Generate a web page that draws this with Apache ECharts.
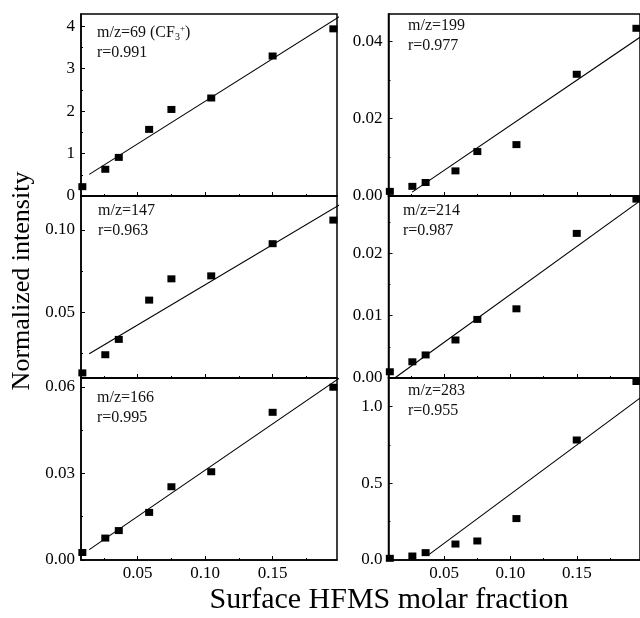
<!DOCTYPE html>
<html>
<head>
<meta charset="utf-8">
<script src="https://cdn.jsdelivr.net/npm/echarts@6/dist/echarts.min.js"></script>
<style>
  html, body { margin: 0; padding: 0; background: #fff; }
  #chart { width: 640px; height: 618px; }
</style>
</head>
<body>
<div id="chart"></div>
<script>
// surface HFMS molar fraction (shared x values for all six panels)
var xFrac = [0.009, 0.026, 0.036, 0.0585, 0.075, 0.1045, 0.15, 0.195];
var xTickLabels = [0.05, 0.10, 0.15];
var xMinorTicks = [0.025, 0.075, 0.125, 0.175];

// normalized intensities, one array per ion
var mz69 = [0.22, 0.63, 0.91, 1.57, 2.04, 2.31, 3.30, 3.94];
var mz199 = [0.0012, 0.0025, 0.0035, 0.0065, 0.0115, 0.0133, 0.0315, 0.0434];
var mz147 = [0.0134, 0.0244, 0.0337, 0.0575, 0.0704, 0.0722, 0.0917, 0.1060];
var mz214 = [0.0010, 0.0026, 0.0037, 0.0061, 0.0094, 0.0111, 0.0232, 0.0287];
var mz166 = [0.0026, 0.0076, 0.0102, 0.0165, 0.0254, 0.0306, 0.0512, 0.0599];
var mz283 = [0.011, 0.026, 0.048, 0.104, 0.124, 0.270, 0.782, 1.163];

// panel order: row by row, left then right
var panelValues = [mz69, mz199, mz147, mz214, mz166, mz283];
var panelLabels = ['m/z=69 (CF{sub|3}{sup|+})', 'm/z=199', 'm/z=147', 'm/z=214', 'm/z=166', 'm/z=283'];
var rValues = ['0.991', '0.977', '0.963', '0.987', '0.995', '0.955'];

// linear fit end points
var fitX = [[0.0141, 0.2021], [0.0258, 0.2021], [0.0141, 0.2021], [0.0127, 0.2021], [0.0141, 0.2021], [0.0387, 0.2021]];
var fitY = [[0.51, 4.28], [0.001, 0.0421], [0.025, 0.1165], [0, 0.0291], [0.0036, 0.0639], [0.037, 1.083]];

// y axes
var yTickLabels = [[0, 1, 2, 3, 4], [0, 0.02, 0.04], [0.05, 0.10], [0, 0.01, 0.02], [0, 0.03, 0.06], [0, 0.5, 1.0]];
var yMinorTicks = [[0.5, 1.5, 2.5, 3.5], [0.01, 0.03], [0.025, 0.075], [0.005, 0.015, 0.025], [0.015, 0.045], [0.25, 0.75]];
var yRange = [[0, 4.29], [0, 0.0471], [0.0103, 0.1206], [0, 0.0292], [0, 0.0631], [0, 1.186]];
var yDecimals = [0, 2, 2, 2, 2, 1];

var xMin = 0.008, xMax = 0.1977;
var FONT = '"Liberation Serif", "Times New Roman", serif';

var colLeft = [81, 388.5];
var rowTop = [14, 196, 378];
var annotPos = [[97, 43], [408, 36], [98, 221], [403, 221], [97, 408], [408, 401]];

var grids = [], xAxes = [], yAxes = [], series = [], graphics = [];

for (var i = 0; i < 6; i++) {
	var row = Math.floor(i / 2), col = i % 2;
	grids.push({
		left: colLeft[col], top: rowTop[row], width: 256, height: 182,
		show: true, borderColor: '#000', borderWidth: 1.5, backgroundColor: 'transparent'
	});
	var dec = yDecimals[i];
	// main x axis
	xAxes.push({
		gridIndex: i, type: 'value', min: xMin, max: xMax, position: 'bottom',
		axisLine: { show: true, onZero: false, lineStyle: { color: '#000', width: 1.5 } },
		axisTick: { show: true, inside: true, length: 4, customValues: xTickLabels, lineStyle: { color: '#000', width: 1 } },
		axisLabel: {
			show: row === 2, customValues: xTickLabels, margin: 5,
			color: '#000', fontFamily: FONT, fontSize: 17,
			formatter: function (v) { return v.toFixed(2); }
		},
		splitLine: { show: false }
	});
	// minor x ticks
	xAxes.push({
		gridIndex: i, type: 'value', min: xMin, max: xMax, position: 'bottom',
		axisLine: { show: false },
		axisTick: { show: true, inside: true, length: 2, customValues: xMinorTicks, lineStyle: { color: '#000', width: 1 } },
		axisLabel: { show: false },
		splitLine: { show: false }
	});
	yAxes.push({
		gridIndex: i, type: 'value', min: yRange[i][0], max: yRange[i][1], position: 'left',
		axisLine: { show: true, onZero: false, lineStyle: { color: '#000', width: 1.5 } },
		axisTick: { show: true, inside: true, length: 4, customValues: yTickLabels[i], lineStyle: { color: '#000', width: 1 } },
		axisLabel: {
			show: true, customValues: yTickLabels[i], margin: 6,
			color: '#000', fontFamily: FONT, fontSize: 17,
			formatter: (function (d) { return function (v) { return v.toFixed(d); }; })(dec)
		},
		splitLine: { show: false }
	});
	yAxes.push({
		gridIndex: i, type: 'value', min: yRange[i][0], max: yRange[i][1], position: 'left',
		axisLine: { show: false },
		axisTick: { show: true, inside: true, length: 2, customValues: yMinorTicks[i], lineStyle: { color: '#000', width: 1 } },
		axisLabel: { show: false },
		splitLine: { show: false }
	});

	var pts = [];
	for (var j = 0; j < xFrac.length; j++) pts.push([xFrac[j], panelValues[i][j]]);
	series.push({
		type: 'scatter', xAxisIndex: i * 2, yAxisIndex: i * 2, data: pts,
		symbol: 'rect', symbolSize: [8, 7], clip: false,
		itemStyle: { color: '#000', opacity: 1 }, z: 3
	});
	series.push({
		type: 'line', xAxisIndex: i * 2, yAxisIndex: i * 2,
		data: [[fitX[i][0], fitY[i][0]], [fitX[i][1], fitY[i][1]]],
		symbol: 'none', clip: false,
		lineStyle: { color: '#000', width: 1.1 }, z: 2
	});

	graphics.push({
		type: 'text', x: annotPos[i][0], y: annotPos[i][1],
		style: {
			text: panelLabels[i] + '\nr=' + rValues[i],
			fill: '#111', font: '16px ' + FONT, lineHeight: 20,
			verticalAlign: 'middle',
			rich: {
				sub: { fontSize: 10, fontFamily: FONT, fill: '#111', padding: [8, 0, 0, 0] },
				sup: { fontSize: 9, fontFamily: FONT, fill: '#111', padding: [0, 0, 8, 0] }
			}
		}
	});
}

graphics.push({
	type: 'text', x: 22, y: 281, rotation: Math.PI / 2,
	style: { text: 'Normalized intensity', fill: '#000', font: '26px ' + FONT, align: 'center', verticalAlign: 'middle' }
});
graphics.push({
	type: 'text', x: 389, y: 600,
	style: { text: 'Surface HFMS molar fraction', fill: '#000', font: '30px ' + FONT, align: 'center', verticalAlign: 'middle' }
});

var myChart = echarts.init(document.getElementById('chart'), null, { renderer: 'canvas' });
var option = {
	animation: false,
	backgroundColor: '#fff',
	grid: grids,
	xAxis: xAxes,
	yAxis: yAxes,
	series: series,
	graphic: graphics
};
myChart.setOption(option);
</script>
</body>
</html>
